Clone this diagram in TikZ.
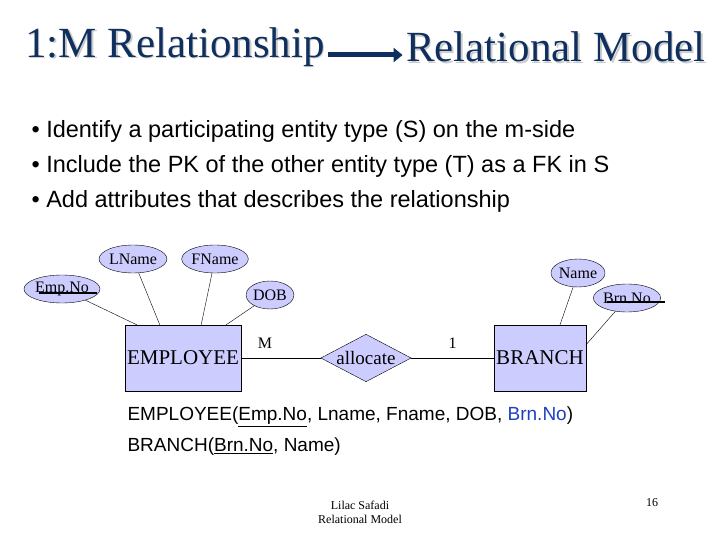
\documentclass[tikz,border=0pt]{standalone}
\usepackage{fontspec}
\setmainfont{Liberation Serif}
\setsansfont{Liberation Sans}
\usetikzlibrary{shapes.geometric,arrows.meta}
\definecolor{navy}{HTML}{0F2F5F}
\definecolor{lav}{HTML}{CCCCFF}
\definecolor{fkblue}{HTML}{1F3FBF}
\tikzset{
  attr/.style={ellipse,draw,fill=lav,inner sep=0pt,minimum height=28pt,font=\fontsize{16}{16}\selectfont},
  entity/.style={rectangle,draw,fill=lav,inner sep=2pt,minimum height=66pt,font=\fontsize{21}{21}\selectfont},
  rel/.style={diamond,draw,fill=lav,aspect=1.9,inner sep=1pt,font=\fontsize{19}{19}\selectfont},
  card/.style={font=\fontsize{16}{16}\selectfont},
  bullet/.style={anchor=west,font=\sffamily\fontsize{23.5}{23.5}\selectfont},
  reln/.style={anchor=west,font=\sffamily\fontsize{19}{19}\selectfont},
  title/.style={text=navy,font=\fontsize{43}{43}\selectfont}
}
\begin{document}
\begin{tikzpicture}[x=1pt,y=-1pt]
\useasboundingbox (0,0) rectangle (720,540);
% title
\node[title,text=gray!40] (t1s) at (176.5,48.5) {1:M Relationship};
\node[title] (t1) at (175,47) {1:M Relationship};
\node[title,text=gray!40] (t2s) at (557.5,48.5) {Relational Model};
\node[title] (t2) at (556,47) {Relational Model};
\draw[navy,line width=5pt,-{Triangle[length=9pt,width=14pt]}] (t1.east |- 0,55) -- (t2.west |- 0,55);
% bullets
\node[bullet] (b1) at (28,131) {\textbullet\ Identify a participating entity type (S) on the m-side};
\node[bullet] (b2) at (28,166) {\textbullet\ Include the PK of the other entity type (T) as a FK in S};
\node[bullet] (b3) at (28,201) {\textbullet\ Add attributes that describes the relationship};
% ER diagram
\node[entity] (emp) at (183,358) {EMPLOYEE};
\node[rel] (alloc) at (366,358) {allocate};
\node[entity] (br) at (540,358) {BRANCH};
\node[attr] (lname) at (133,259) {LName};
\node[attr] (fname) at (215,259) {FName};
\node[attr] (empno) at (62,289) {Emp.No};
\node[attr] (dob) at (270,295) {DOB};
\node[attr] (name) at (578,273) {Name};
\node[attr] (brnno) at (627,298) {Brn.No};
\draw[line width=2pt] ([xshift=4pt]empno.south west) ++(0,6pt) -- ++(58pt,0);
\draw[line width=2pt] ([xshift=4pt]brnno.south west) ++(0,6pt) -- ++(58pt,0);
\draw (empno) -- ([xshift=12pt]emp.north west);
\draw (lname) -- ([xshift=35pt]emp.north west);
\draw (fname) -- ([xshift=-40pt]emp.north east);
\draw (dob) -- ([xshift=-15pt]emp.north east);
\draw (name) -- ([xshift=20pt]br.north);
\draw (brnno) -- ([yshift=-20pt]br.north east);
\draw (emp) -- (alloc) node[card,pos=0.3,above=6pt] (m) {M};
\draw (alloc) -- (br) node[card,pos=0.5,above=6pt] (one) {1};
% relations
\node[reln] (r1) at (124,417) {EMPLOYEE(\underline{Emp.No}, Lname, Fname, DOB, \textcolor{fkblue}{Brn.No})};
\node[reln] (r2) at (124,447) {BRANCH(\underline{Brn.No}, Name)};
% footer
\node[font=\fontsize{12}{14}\selectfont,align=center] (foot) at (360,512) {Lilac Safadi\\Relational Model};
\node[font=\fontsize{12}{14}\selectfont] (page) at (652,503) {16};
\end{tikzpicture}
\end{document}
